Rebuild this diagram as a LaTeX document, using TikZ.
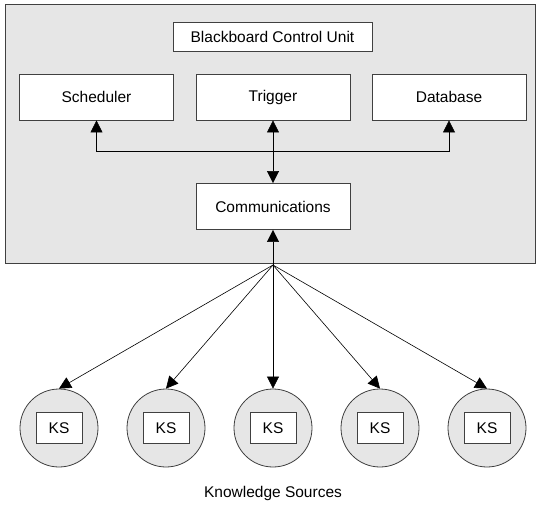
\documentclass[tikz,border=0pt]{standalone}
\usepackage{fontspec}
\setmainfont{Liberation Sans}
\usetikzlibrary{arrows.meta}
\definecolor{panel}{HTML}{E6E6E6}
\definecolor{edge}{HTML}{404040}
\tikzset{
  board/.style={draw=edge, fill=panel, line width=0.9pt, minimum width=530pt, minimum height=259pt, inner sep=0pt},
  unit/.style={draw=edge, fill=white, line width=0.8pt, minimum width=154pt, minimum height=46pt, inner sep=0pt, font=\fontsize{15.5}{18}\selectfont},
  title/.style={draw=edge, fill=white, line width=0.8pt, minimum width=199pt, minimum height=29pt, inner sep=0pt, font=\fontsize{15.5}{18}\selectfont},
  source/.style={circle, draw=edge, fill=panel, line width=0.8pt, minimum size=78pt, inner sep=0pt},
  kslabel/.style={draw=edge, fill=white, line width=0.8pt, minimum width=46pt, minimum height=31pt, inner sep=0pt, font=\fontsize{15.5}{18}\selectfont},
  tip/.style={line width=0.6pt, -{Triangle[length=12pt,width=12pt]}},
  bothtips/.style={line width=0.6pt, {Triangle[length=12pt,width=12pt]}-{Triangle[length=12pt,width=12pt]}},
  caption/.style={font=\fontsize{15.5}{18}\selectfont}
}
\begin{document}
\begin{tikzpicture}[x=1pt, y=-1pt]
  \useasboundingbox (0,0) rectangle (536,504);

  % control unit panel
  \node[board] (bb) at (270,133.5) {};
  \node[title] (bcu) at (272.5,36.5) {Blackboard Control Unit};
  \node[unit] (sch) at (96.5,97) {Scheduler};
  \node[unit] (trg) at (273,97) {Trigger};
  \node[unit] (db)  at (449,97) {Database};
  \node[unit] (comm) at (273,206.5) {Communications};

  % internal bus
  \coordinate (bus) at (273,151);
  \draw[bothtips] (trg.south) -- (comm.north);
  \draw[tip] (bus) -| (sch.south);
  \draw[tip] (bus) -| (db.south);

  % knowledge sources
  \coordinate (hub) at (273,265);
  \draw[tip] (hub) -- (comm.south);
  \foreach \i/\x in {1/59,2/166,3/273,4/380,5/487} {
    \node[source] (ks\i) at (\x,428) {};
    \node[kslabel] (ksl\i) at (ks\i) {KS};
    \draw[tip] (hub) -- (ks\i.north);
  }
  \node[caption] (cap) at (273,493) {Knowledge Sources};
\end{tikzpicture}
\end{document}
